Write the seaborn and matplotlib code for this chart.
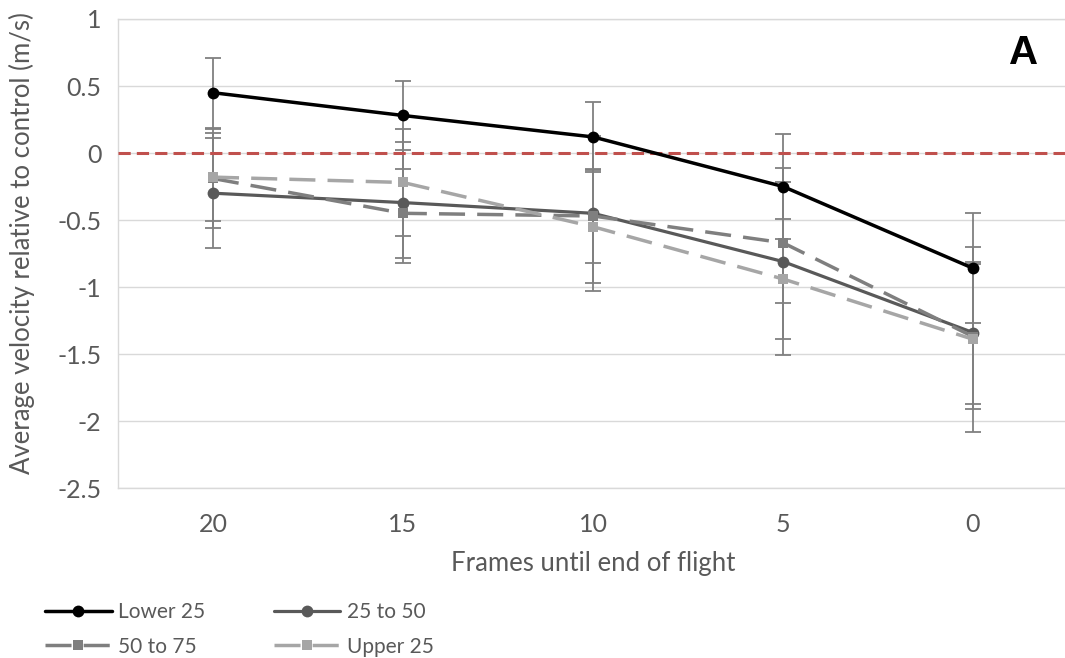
import matplotlib
matplotlib.use("Agg")
import matplotlib.pyplot as plt
from matplotlib.lines import Line2D
import pandas as pd
import seaborn as sns

# Frames remaining before the end of the flight (x categories)
frames = [20, 15, 10, 5, 0]
y_ticks = [1, 0.5, 0, -0.5, -1, -1.5, -2, -2.5]
y_tick_labels = ["1", "0.5", "0", "-0.5", "-1", "-1.5", "-2", "-2.5"]

# Mean velocity relative to control (m/s) and error bar half-widths
lower25 = [0.45, 0.28, 0.12, -0.25, -0.86]
lower25_err = [0.26, 0.26, 0.26, 0.39, 0.41]
q25_50 = [-0.30, -0.37, -0.45, -0.81, -1.34]
q25_50_err = [0.41, 0.45, 0.58, 0.70, 0.53]
q50_75 = [-0.19, -0.45, -0.47, -0.67, -1.37]
q50_75_err = [0.37, 0.33, 0.35, 0.45, 0.54]
upper25 = [-0.18, -0.22, -0.55, -0.94, -1.39]
upper25_err = [0.33, 0.40, 0.42, 0.45, 0.69]

series_names = ["Lower 25", "25 to 50", "50 to 75", "Upper 25"]
series_vals = [lower25, q25_50, q50_75, upper25]
series_errs = [lower25_err, q25_50_err, q50_75_err, upper25_err]

styles = {
    "Lower 25": dict(color="#000000", marker="o", ms=8.5, lw=2.5, dash=None),
    "25 to 50": dict(color="#595959", marker="o", ms=8.5, lw=2.3, dash=None),
    "50 to 75": dict(color="#7f7f7f", marker="s", ms=7.5, lw=2.5, dash=(7.5, 3.5)),
    "Upper 25": dict(color="#a6a6a6", marker="s", ms=7.5, lw=2.5, dash=(7.5, 3.5)),
}

rows = []
for name, vals, errs in zip(series_names, series_vals, series_errs):
    for f, v, e in zip(frames, vals, errs):
        rows.append({"frame": f, "value": v, "err": e, "group": name})
df = pd.DataFrame(rows)

sns.set_theme(style="white")
plt.rcParams["font.family"] = ["Lato", "DejaVu Sans"]
text_color = "#595959"
grid_color = "#d9d9d9"

fig = plt.figure(figsize=(10.65, 6.58), dpi=100)
ax = fig.add_axes([118 / 1065, (658 - 488) / 658, 950 / 1065, (488 - 19) / 658])

# Error bars first, so lines and markers sit above them
for name in series_names:
    sub = df[df["group"] == name]
    ax.errorbar(sub["frame"], sub["value"], yerr=sub["err"], fmt="none",
                ecolor="#808080", elinewidth=1.3, capsize=6, capthick=1.3,
                zorder=2)

# Reference line at zero velocity difference
ax.axhline(0, color="#c0504d", lw=2.2, ls=(0, (4, 2)), zorder=3)

for i, name in enumerate(series_names):
    st = styles[name]
    sub = df[df["group"] == name]
    sns.lineplot(data=sub, x="frame", y="value", ax=ax, color=st["color"],
                 marker=st["marker"], markersize=st["ms"], linewidth=st["lw"],
                 markeredgewidth=0, estimator=None, sort=False, legend=False,
                 zorder=4 + i)
    if st["dash"] is not None:
        ax.lines[-1].set_dashes(st["dash"])

ax.set_xlim(22.5, -2.5)
ax.set_ylim(-2.5, 1)
ax.set_xticks(frames)
ax.set_xticklabels([str(f) for f in frames])
ax.set_yticks(y_ticks)
ax.set_yticklabels(y_tick_labels)
ax.grid(axis="y", color=grid_color, lw=1)
ax.set_axisbelow(True)
for sp in ax.spines.values():
    sp.set_color(grid_color)
    sp.set_linewidth(1)
ax.tick_params(axis="both", length=0, labelsize=18, colors=text_color)
ax.tick_params(axis="x", pad=18)
ax.tick_params(axis="y", pad=12)

ax.set_xlabel("Frames until end of flight", fontsize=18.5, color=text_color)
ax.set_ylabel("Average velocity relative to control (m/s)", fontsize=18.5,
              color=text_color)
ax.xaxis.set_label_coords(0.5, (488 - 563) / 469)
ax.xaxis.label.set_va("center")
ax.yaxis.set_label_coords((22 - 118) / 950, (488 - 243) / 469)
ax.yaxis.label.set_va("center")

fig.text(1024 / 1065, 1 - 53 / 658, "A", ha="center", va="center",
         fontsize=29, fontweight="bold", family="Liberation Sans",
         color="#000000")

handles = {}
for name in series_names:
    st = styles[name]
    h = Line2D([], [], color=st["color"], marker=st["marker"],
               markersize=st["ms"], lw=st["lw"], markeredgewidth=0)
    if st["dash"] is not None:
        h.set_dashes(st["dash"])
    handles[name] = h

order = ["Lower 25", "50 to 75", "25 to 50", "Upper 25"]
leg = fig.legend([handles[n] for n in order], order, ncol=2,
                 loc="upper left", bbox_to_anchor=(45 / 1065, 1 - 602 / 658),
                 frameon=False, fontsize=15, handlelength=3.2,
                 handletextpad=0.3, columnspacing=3.3, labelspacing=0.7,
                 borderpad=0, borderaxespad=0)
for t in leg.get_texts():
    t.set_color(text_color)

fig.savefig("out.png", dpi=100)
